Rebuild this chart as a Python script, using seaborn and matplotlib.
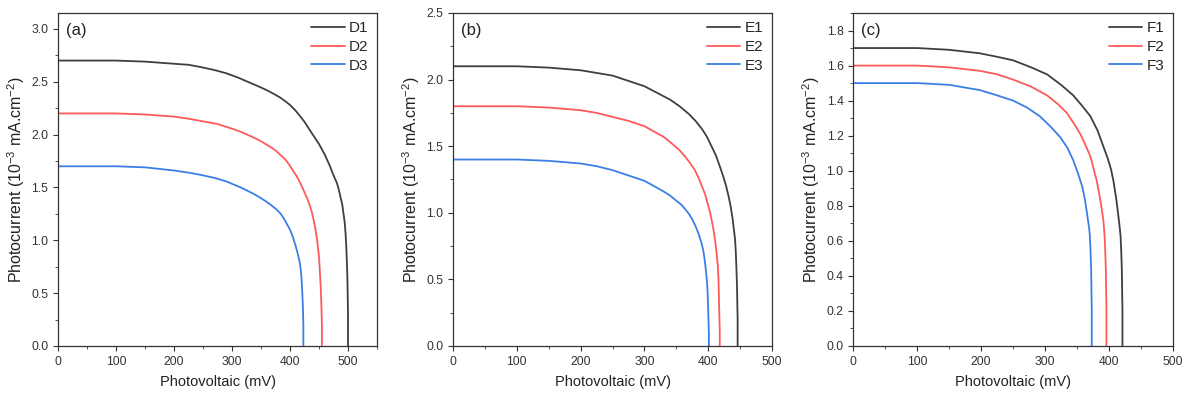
import matplotlib
matplotlib.use("Agg")
import matplotlib.pyplot as plt
from matplotlib.ticker import MultipleLocator, AutoMinorLocator
import seaborn as sns

# values (mV, 10^-3 mA/cm^2)
D1_v = [0, 50, 100, 150, 200, 225, 245, 270, 290, 310, 331, 346, 360, 372, 383, 392, 400, 409, 418, 425, 432, 438, 444, 450, 455, 460, 464, 469, 473, 477, 481, 484, 487, 490, 492, 494, 495, 496, 497, 498, 499, 500, 500]
D1_i = [2.70, 2.70, 2.70, 2.69, 2.67, 2.66, 2.64, 2.61, 2.58, 2.54, 2.49, 2.455, 2.42, 2.385, 2.35, 2.315, 2.28, 2.23, 2.17, 2.12, 2.06, 2.01, 1.96, 1.91, 1.86, 1.81, 1.76, 1.70, 1.64, 1.59, 1.54, 1.48, 1.41, 1.34, 1.26, 1.18, 1.12, 1.04, 0.94, 0.80, 0.62, 0.30, 0.0]
D2_v = [0, 50, 100, 150, 200, 225, 245, 275, 303, 318, 330, 340, 349, 358, 367, 375, 383, 391, 398, 405, 412, 417, 422, 426, 430, 434, 437, 440, 443, 446, 448, 450, 451, 452, 453, 454, 455, 455]
D2_i = [2.20, 2.20, 2.20, 2.19, 2.17, 2.15, 2.13, 2.10, 2.05, 2.02, 1.99, 1.965, 1.94, 1.91, 1.88, 1.85, 1.81, 1.77, 1.72, 1.66, 1.60, 1.55, 1.49, 1.44, 1.39, 1.33, 1.28, 1.21, 1.13, 1.03, 0.94, 0.84, 0.75, 0.65, 0.55, 0.40, 0.20, 0.0]
D3_v = [0, 50, 100, 150, 200, 225, 245, 270, 291, 304, 315, 326, 337, 348, 358, 368, 377, 384, 390, 395, 400, 405, 410, 414, 417, 419, 420, 421, 422, 423, 423]
D3_i = [1.70, 1.70, 1.70, 1.69, 1.66, 1.64, 1.62, 1.59, 1.555, 1.525, 1.50, 1.47, 1.44, 1.405, 1.37, 1.33, 1.29, 1.25, 1.20, 1.15, 1.10, 1.03, 0.94, 0.86, 0.78, 0.70, 0.62, 0.52, 0.40, 0.20, 0.0]

E1_v = [0, 100, 150, 200, 225, 250, 275, 300, 320, 340, 355, 370, 380, 390, 398, 405, 412, 418, 423, 428, 432, 435, 438, 440, 442, 443, 444, 445, 446, 446]
E1_i = [2.10, 2.10, 2.09, 2.07, 2.05, 2.03, 1.99, 1.95, 1.90, 1.85, 1.80, 1.74, 1.69, 1.63, 1.57, 1.50, 1.43, 1.35, 1.28, 1.20, 1.12, 1.05, 0.96, 0.88, 0.80, 0.72, 0.60, 0.45, 0.20, 0.0]
E2_v = [0, 100, 150, 200, 225, 250, 275, 300, 315, 330, 343, 355, 364, 372, 379, 385, 390, 395, 399, 403, 406, 409, 411, 413, 415, 416, 417, 418, 418]
E2_i = [1.80, 1.80, 1.79, 1.77, 1.75, 1.72, 1.69, 1.65, 1.61, 1.57, 1.52, 1.47, 1.42, 1.37, 1.32, 1.26, 1.20, 1.14, 1.07, 1.00, 0.93, 0.85, 0.78, 0.70, 0.60, 0.50, 0.30, 0.10, 0.0]
E3_v = [0, 100, 150, 200, 225, 250, 275, 300, 315, 330, 340, 350, 358, 365, 370, 375, 380, 385, 389, 392, 394, 396, 398, 399, 400, 401, 401]
E3_i = [1.40, 1.40, 1.39, 1.37, 1.35, 1.32, 1.28, 1.24, 1.20, 1.16, 1.13, 1.09, 1.06, 1.02, 0.99, 0.95, 0.90, 0.84, 0.78, 0.72, 0.66, 0.58, 0.48, 0.40, 0.25, 0.08, 0.0]

F1_v = [0, 100, 150, 198, 225, 250, 278, 303, 325, 344, 358, 371, 382, 391, 398, 403, 407, 410, 412, 414, 416, 418, 419, 420, 421, 421]
F1_i = [1.70, 1.70, 1.69, 1.67, 1.65, 1.63, 1.59, 1.55, 1.49, 1.43, 1.37, 1.31, 1.23, 1.14, 1.07, 1.01, 0.94, 0.87, 0.82, 0.76, 0.70, 0.63, 0.55, 0.44, 0.20, 0.0]
F2_v = [0, 100, 150, 198, 225, 250, 278, 303, 320, 334, 345, 355, 364, 371, 376, 381, 384, 387, 389, 391, 392, 393, 394, 395, 396, 396]
F2_i = [1.60, 1.60, 1.59, 1.57, 1.55, 1.52, 1.48, 1.43, 1.38, 1.33, 1.27, 1.21, 1.14, 1.08, 1.01, 0.94, 0.88, 0.82, 0.77, 0.72, 0.68, 0.63, 0.55, 0.44, 0.20, 0.0]
F3_v = [0, 100, 150, 198, 225, 250, 272, 292, 309, 324, 335, 344, 351, 358, 361, 363, 365, 367, 369, 370, 371, 372, 373, 373]
F3_i = [1.50, 1.50, 1.49, 1.46, 1.43, 1.40, 1.36, 1.31, 1.25, 1.19, 1.13, 1.06, 0.99, 0.91, 0.86, 0.82, 0.77, 0.72, 0.67, 0.63, 0.55, 0.44, 0.20, 0.0]

colors = ["#3f3f3f", "#ff5a5a", "#3b7fe6"]

sns.set_style("ticks")
plt.rcParams["font.family"] = ["Liberation Sans", "DejaVu Sans"]
plt.rcParams["mathtext.default"] = "regular"

fig = plt.figure(figsize=(11.86, 4.0), dpi=100)

panels = [
    ("(a)", [("D1", D1_v, D1_i), ("D2", D2_v, D2_i), ("D3", D3_v, D3_i)],
     [0.0489, 0.135, 0.269, 0.8325], (0, 550), (0, 3.15), 0.5),
    ("(b)", [("E1", E1_v, E1_i), ("E2", E2_v, E2_i), ("E3", E3_v, E3_i)],
     [0.382, 0.135, 0.269, 0.8325], (0, 500), (0, 2.5), 0.5),
    ("(c)", [("F1", F1_v, F1_i), ("F2", F2_v, F2_i), ("F3", F3_v, F3_i)],
     [0.7195, 0.135, 0.2695, 0.8325], (0, 500), (0, 1.9), 0.2),
]

for tag, series, pos, xlim, ylim, ystep in panels:
    ax = fig.add_axes(pos)
    for (name, v, i), c in zip(series, colors):
        sns.lineplot(x=v, y=i, ax=ax, color=c, lw=1.3, label=name,
                     sort=False, estimator=None)
    ax.set_xlim(*xlim)
    ax.set_ylim(*ylim)
    ax.xaxis.set_major_locator(MultipleLocator(100))
    ax.yaxis.set_major_locator(MultipleLocator(ystep))
    ax.xaxis.set_minor_locator(AutoMinorLocator(2))
    ax.yaxis.set_minor_locator(AutoMinorLocator(2))
    ax.tick_params(which="major", direction="out", length=3.5, width=0.8,
                   labelsize=8.8, colors="#333333", top=False, right=False)
    ax.tick_params(which="minor", direction="out", length=2, width=0.6,
                   colors="#333333", top=False, right=False)
    ax.yaxis.set_major_formatter(matplotlib.ticker.FormatStrFormatter("%.1f"))
    for s in ax.spines.values():
        s.set_visible(True)
        s.set_linewidth(0.9)
        s.set_color("#333333")
    ax.set_xlabel("Photovoltaic (mV)", fontsize=10.5, color="#222222", labelpad=5)
    ax.set_ylabel("Photocurrent (10$^{-3}$ mA.cm$^{-2}$)", fontsize=11.5,
                  color="#222222", labelpad=3)
    ax.text(0.025, 0.97, tag, transform=ax.transAxes, fontsize=12,
            va="top", ha="left", color="#222222")
    ax.legend(loc="upper right", frameon=False, fontsize=11,
              handlelength=2.2, labelspacing=0.3, handletextpad=0.3,
              borderaxespad=0.15)

fig.savefig("out.png", dpi=100)
